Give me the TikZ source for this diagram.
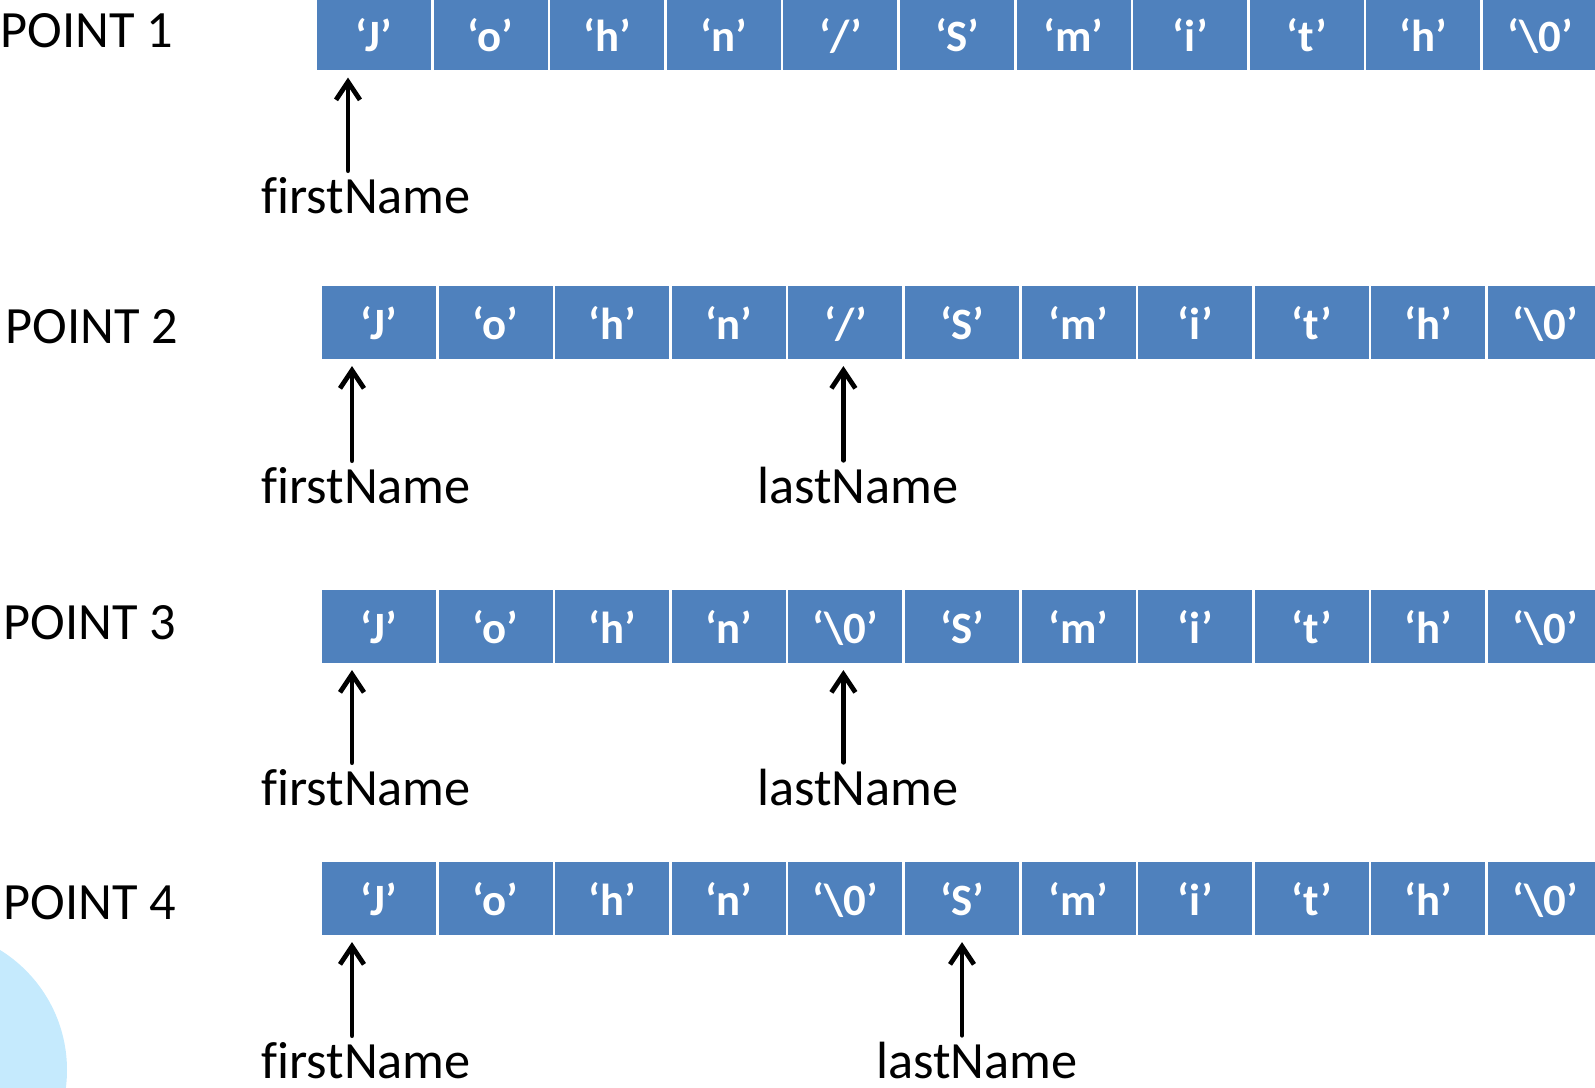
\documentclass[tikz,border=0pt]{standalone}
\usepackage{fontspec}
\setmainfont{Carlito}[Ligatures=CommonOff]
\usetikzlibrary{arrows.meta,positioning}

\definecolor{cellblue}{RGB}{79,129,189}
\definecolor{blob}{RGB}{197,234,253}

\tikzset{
    cell/.style={fill=cellblue, text=white, inner sep=0pt,
        minimum width=2.28cm, minimum height=1.45cm,
        text height=19.9pt, text depth=0pt,
        font=\fontsize{25.5}{30}\selectfont\bfseries},
    pointlbl/.style={anchor=base west, inner sep=0pt,
        font=\fontsize{29.8}{35}\selectfont},
    namelbl/.style={anchor=base, inner sep=0pt,
        font=\fontsize{29.8}{35}\selectfont},
    ptr/.style={-{Straight Barb[length=0.36cm,width=0.48cm]},
        line width=0.095cm, shorten >=0.14cm, shorten <=0.12cm}
}

\begin{document}
\begin{tikzpicture}[x=0.02cm, y=-0.02cm, line cap=round, line join=round]

\useasboundingbox (0,0) rectangle (1595,1088);
\clip (0,0) rectangle (1595,1088);

% light blue disc, lower left corner
\fill[blob] (-74,1070) circle[radius=141];

\pgfmathsetmacro{\pitch}{116.6}

% Step labels ------------------------------------
\node[pointlbl] (p1) at (0,48)  {POINT 1};
\node[pointlbl] (p2) at (5,343) {POINT 2};
\node[pointlbl] (p3) at (3,639) {POINT 3};
\node[pointlbl] (p4) at (3,919) {POINT 4};

% Char arrays ------------------------------------
\foreach \ch [count=\i] in {J,o,h,n,/,S,m,i,t,h,{\textbackslash 0}}
    \node[cell] (c1-\i) at ({374+(\i-1)*\pitch},34) {‘\ch’};

\foreach \ch [count=\i] in {J,o,h,n,/,S,m,i,t,h,{\textbackslash 0}}
    \node[cell] (c2-\i) at ({379+(\i-1)*\pitch},322.5) {‘\ch’};

\foreach \ch [count=\i] in {J,o,h,n,{\textbackslash 0},S,m,i,t,h,{\textbackslash 0}}
    \node[cell] (c3-\i) at ({379+(\i-1)*\pitch},626.5) {‘\ch’};

\foreach \ch [count=\i] in {J,o,h,n,{\textbackslash 0},S,m,i,t,h,{\textbackslash 0}}
    \node[cell] (c4-\i) at ({379+(\i-1)*\pitch},898.5) {‘\ch’};

% Pointers ---------------------------------------
\node[namelbl] (fn1) at (366,213)  {firstName};
\node[namelbl] (fn2) at (366,503)  {firstName};
\node[namelbl] (ln2) at (858,503)  {lastName};
\node[namelbl] (fn3) at (366,805)  {firstName};
\node[namelbl] (ln3) at (858,805)  {lastName};
\node[namelbl] (fn4) at (366,1078) {firstName};
\node[namelbl] (ln4) at (977,1078) {lastName};

\draw[ptr] ([xshift=-0.52cm]c1-1.south |- fn1.north) -- ([xshift=-0.52cm]c1-1.south);
\draw[ptr] ([xshift=-0.54cm]c2-1.south |- fn2.north) -- ([xshift=-0.54cm]c2-1.south);
\draw[ptr] ([xshift=-0.04cm]c2-5.south |- ln2.north) -- ([xshift=-0.04cm]c2-5.south);
\draw[ptr] ([xshift=-0.54cm]c3-1.south |- fn3.north) -- ([xshift=-0.54cm]c3-1.south);
\draw[ptr] ([xshift=-0.04cm]c3-5.south |- ln3.north) -- ([xshift=-0.04cm]c3-5.south);
\draw[ptr] ([xshift=-0.54cm]c4-1.south |- fn4.north) -- ([xshift=-0.54cm]c4-1.south);
\draw[ptr] (c4-6.south |- ln4.north) -- (c4-6.south);

\end{tikzpicture}
\end{document}
